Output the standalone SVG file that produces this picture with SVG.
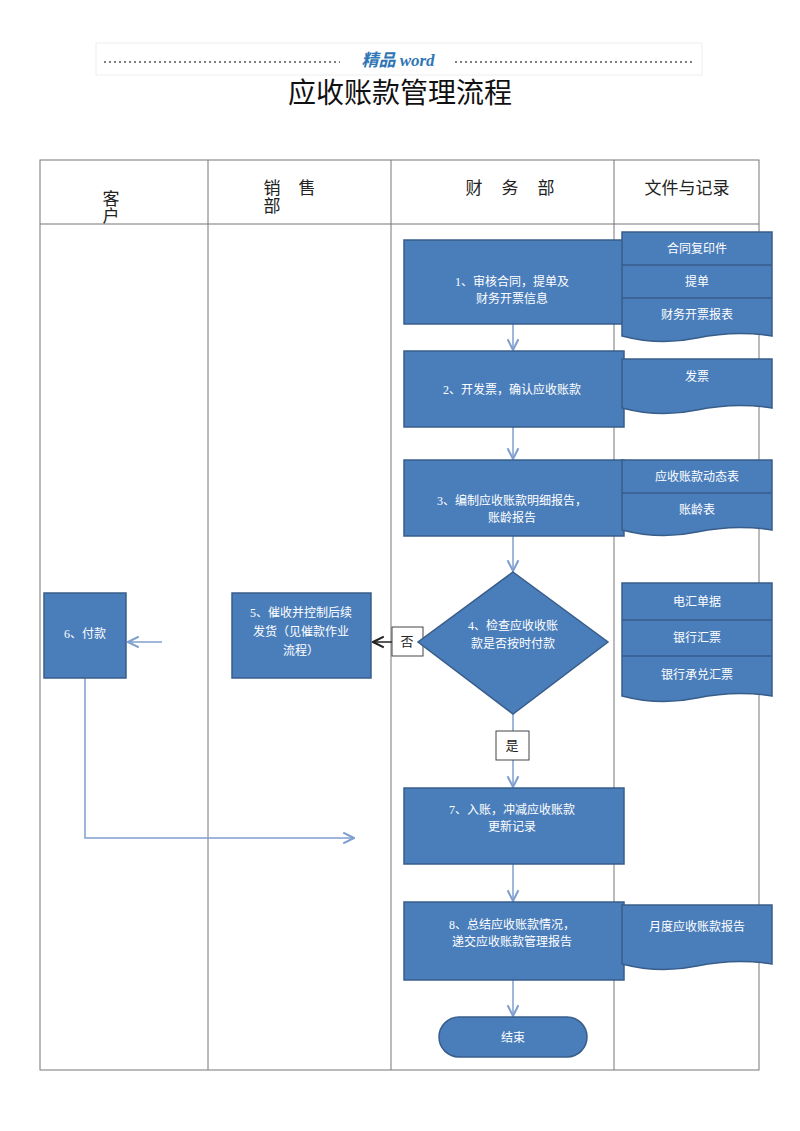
<svg xmlns="http://www.w3.org/2000/svg" width="800" height="1131" viewBox="0 0 800 1131">
<defs>
<style>
.b{fill:#4a7ebb;stroke:#385d8a;stroke-width:1.5}
.t{font-family:"Liberation Serif","Noto Sans CJK SC",serif;font-size:12px;fill:#fff;text-anchor:middle}
.h{font-family:"Liberation Sans","Noto Sans CJK SC",sans-serif;font-size:17px;fill:#222;text-anchor:middle}
.c{fill:none;stroke:#7f9fcf;stroke-width:1.5}
.g{fill:none;stroke:#777;stroke-width:1}
.lb{fill:#fff;stroke:#444;stroke-width:1}
.lt{font-family:"Liberation Serif","Noto Sans CJK SC",serif;font-size:13px;fill:#222;text-anchor:middle}
</style>
<marker id="a" viewBox="0 0 10 10" refX="9" refY="5" markerWidth="9" markerHeight="9" orient="auto"><path d="M1,1 L9,5 L1,9" fill="none" stroke="#7f9fcf" stroke-width="1.5"/></marker>
<marker id="k" viewBox="0 0 10 10" refX="9" refY="5" markerWidth="9" markerHeight="9" orient="auto"><path d="M1,1 L9,5 L1,9" fill="none" stroke="#222" stroke-width="1.5"/></marker>
</defs>
<rect width="800" height="1131" fill="#fff"/>
<g id="header">
<rect x="96" y="43" width="606" height="32" fill="none" stroke="#eee"/>
<line x1="104" y1="62" x2="340" y2="62" stroke="#555" stroke-width="1.5" stroke-dasharray="2,3"/>
<line x1="455" y1="62" x2="695" y2="62" stroke="#555" stroke-width="1.5" stroke-dasharray="2,3"/>
<text x="398" y="66" font-family="Liberation Serif,Noto Sans CJK SC,serif" font-size="17" font-style="italic" font-weight="bold" fill="#2e75b6" text-anchor="middle">精品 word</text>
<text x="400" y="103" font-family="Liberation Sans,Noto Sans CJK SC,sans-serif" font-size="28" fill="#111" text-anchor="middle">应收账款管理流程</text>
</g>
<g id="lanes">
<rect x="40" y="160" width="719" height="910" class="g"/>
<line x1="40" y1="224" x2="759" y2="224" class="g"/>
<line x1="208" y1="160" x2="208" y2="1070" class="g"/>
<line x1="391" y1="160" x2="391" y2="1070" class="g"/>
<line x1="614" y1="160" x2="614" y2="1070" class="g"/>
<text x="111" y="205" class="h">客</text><text x="111" y="222" class="h">户</text>
<text x="272" y="194" class="h">销</text><text x="307" y="194" class="h">售</text><text x="272" y="212" class="h">部</text>
<text x="474" y="194" class="h">财</text><text x="510" y="194" class="h">务</text><text x="546" y="194" class="h">部</text>
<text x="687" y="194" class="h">文件与记录</text>
</g>
<g id="connectors">
<line x1="513" y1="324" x2="513" y2="350" class="c" marker-end="url(#a)"/>
<line x1="513" y1="427" x2="513" y2="459" class="c" marker-end="url(#a)"/>
<line x1="513" y1="536" x2="513" y2="571" class="c" marker-end="url(#a)"/>
<line x1="513" y1="714" x2="513" y2="787" class="c" marker-end="url(#a)"/>
<line x1="513" y1="864" x2="513" y2="901" class="c" marker-end="url(#a)"/>
<line x1="513" y1="980" x2="513" y2="1016" class="c" marker-end="url(#a)"/>
<line x1="418" y1="642" x2="373" y2="642" stroke="#222" stroke-width="1.5" marker-end="url(#k)"/>
<line x1="162" y1="642" x2="128" y2="642" class="c" marker-end="url(#a)"/>
<polyline points="85,678 85,838 354,838" class="c" marker-end="url(#a)"/>
<rect x="392" y="627" width="31" height="29" class="lb"/><text x="407" y="646" class="lt">否</text>
<rect x="496" y="731" width="33" height="29" class="lb"/><text x="512" y="750" class="lt">是</text>
</g>
<g id="n1"><rect x="404" y="240" width="220" height="84" class="b"/><text x="512" y="286" class="t">1、审核合同，提单及</text><text x="512" y="303" class="t">财务开票信息</text></g>
<g id="n2"><rect x="404" y="351" width="220" height="76" class="b"/><text x="512" y="394" class="t">2、开发票，确认应收账款</text></g>
<g id="n3"><rect x="404" y="460" width="220" height="76" class="b"/><text x="512" y="505" class="t">3、编制应收账款明细报告，</text><text x="512" y="522" class="t">账龄报告</text></g>
<g id="n4"><polygon points="513,572 608,642 513,714 418,642" class="b"/><text x="513" y="630" class="t">4、检查应收收账</text><text x="513" y="648" class="t">款是否按时付款</text></g>
<g id="n5"><rect x="232" y="593" width="139" height="85" class="b"/><text x="301" y="617" class="t">5、催收并控制后续</text><text x="301" y="636" class="t">发货（见催款作业</text><text x="301" y="655" class="t">流程）</text></g>
<g id="n6"><rect x="44" y="593" width="82" height="85" class="b"/><text x="85" y="638" class="t">6、付款</text></g>
<g id="n7"><rect x="404" y="788" width="220" height="76" class="b"/><text x="512" y="814" class="t">7、入账，冲减应收账款</text><text x="512" y="831" class="t">更新记录</text></g>
<g id="n8"><rect x="404" y="902" width="220" height="78" class="b"/><text x="512" y="929" class="t">8、总结应收账款情况，</text><text x="512" y="946" class="t">递交应收账款管理报告</text></g>
<g id="end"><rect x="439" y="1017" width="148" height="40" rx="20" class="b"/><text x="513" y="1042" class="t">结束</text></g>
<g id="d1">
<path d="M622,232 H772 V336 Q735,330 697,338 Q660,346 622,336 Z" class="b"/>
<line x1="622" y1="265" x2="772" y2="265" stroke="#385d8a" stroke-width="1.5"/>
<line x1="622" y1="298" x2="772" y2="298" stroke="#385d8a" stroke-width="1.5"/>
<text x="697" y="253" class="t">合同复印件</text><text x="697" y="286" class="t">提单</text><text x="697" y="319" class="t">财务开票报表</text>
</g>
<g id="d2"><path d="M622,359 H772 V408 Q735,402 697,410 Q660,418 622,408 Z" class="b"/><text x="697" y="381" class="t">发票</text></g>
<g id="d3">
<path d="M622,460 H772 V530 Q735,524 697,532 Q660,540 622,530 Z" class="b"/>
<line x1="622" y1="493" x2="772" y2="493" stroke="#385d8a" stroke-width="1.5"/>
<text x="697" y="481" class="t">应收账款动态表</text><text x="697" y="514" class="t">账龄表</text>
</g>
<g id="d4">
<path d="M622,583 H772 V696 Q735,690 697,698 Q660,706 622,696 Z" class="b"/>
<line x1="622" y1="620" x2="772" y2="620" stroke="#385d8a" stroke-width="1.5"/>
<line x1="622" y1="656" x2="772" y2="656" stroke="#385d8a" stroke-width="1.5"/>
<text x="697" y="606" class="t">电汇单据</text><text x="697" y="642" class="t">银行汇票</text><text x="697" y="679" class="t">银行承兑汇票</text>
</g>
<g id="d5"><path d="M622,905 H772 V964 Q735,958 697,966 Q660,974 622,964 Z" class="b"/><text x="697" y="931" class="t">月度应收账款报告</text></g>
</svg>
